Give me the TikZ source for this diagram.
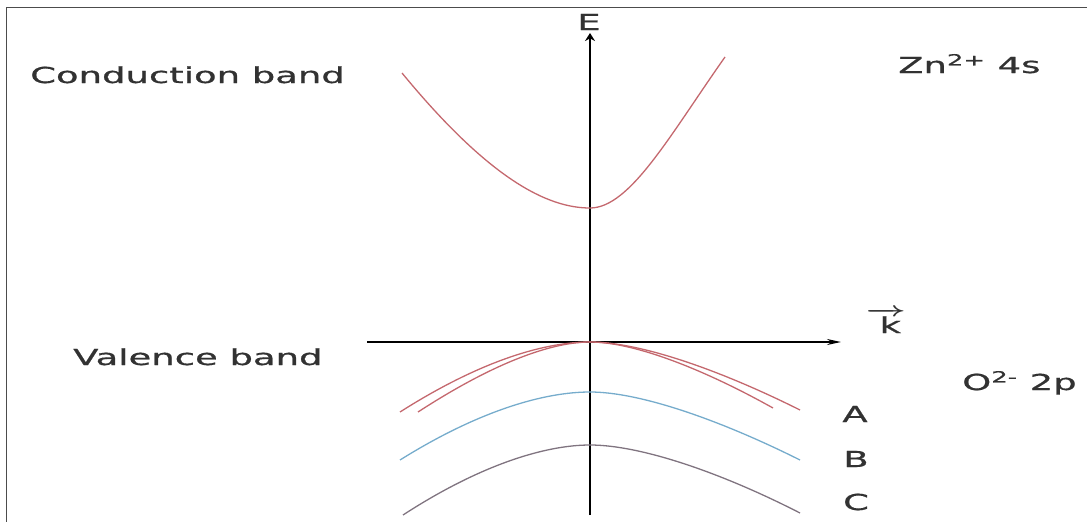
\documentclass[tikz,border=0pt]{standalone}
\usepackage{amsmath}
\usepackage{fontspec}
\setmainfont[FakeBold=0.6]{DejaVu Sans}
\usetikzlibrary{arrows.meta}
\definecolor{bandred}{RGB}{196,104,110}
\definecolor{bandblue}{RGB}{118,172,204}
\definecolor{bandgray}{RGB}{128,116,128}
\definecolor{txtgray}{RGB}{50,50,50}
\newcommand{\wide}[1]{\scalebox{1.68}[1]{#1}}

\begin{document}
\begin{tikzpicture}[x=1pt, y=-1pt, >=Stealth,
    lbl/.style={text=txtgray, font=\fontsize{22}{26}\selectfont, inner sep=0pt},
    band/.style={line width=1.3pt}]
    \useasboundingbox (0,0) rectangle (1087,522);

    % 边框
    \draw[line width=1.5pt, black!70] (6.5,522) -- (6.5,7.5) -- (1087,7.5);

    % 坐标轴 E 与 k
    \coordinate (Ebot) at (590,515);
    \coordinate (Etop) at (590,33);
    \coordinate (kleft) at (367,342);
    \coordinate (kright) at (841,342);
    \draw[line width=1.6pt, -{Stealth[length=8pt,width=10pt]}] (Ebot) -- (Etop);
    \draw[line width=1.6pt, -{Stealth[length=14pt,width=6pt]}] (kleft) -- (kright);
    \node[lbl, anchor=base] (E) at (589,30) {\wide{E}};
    \node[lbl, anchor=base] (k) at (886,333) {\wide{$\boldsymbol{\overrightarrow{\kern6pt\text{k}\kern1pt}}$}};

    % 导带
    \draw[band, bandred] (402,73) .. controls (490,180) and (548,208) .. (590,208)
        .. controls (630,208) and (670,135) .. (725,57);

    % 价带 A (两条)
    \draw[band, bandred] (400,412) .. controls (485,358) and (548,342) .. (590,342)
        .. controls (640,342) and (720,370) .. (800,410);
    \draw[band, bandred] (418,412) .. controls (495,362) and (552,342) .. (590,342)
        .. controls (635,342) and (705,370) .. (773,408);

    % 价带 B
    \draw[band, bandblue] (400,460) .. controls (480,410) and (545,392) .. (590,392)
        .. controls (640,392) and (720,420) .. (800,460);

    % 价带 C
    \draw[band, bandgray] (403,515) .. controls (480,465) and (545,445) .. (590,445)
        .. controls (640,445) and (720,472) .. (800,513);

    % 文字
    \node[lbl, anchor=base west] (cb) at (30,83) {\wide{Conduction band}};
    \node[lbl, anchor=base west] (vb) at (73,365) {\wide{Valence band}};
    \node[lbl, anchor=base west] (zn) at (898,73) {\wide{Zn\textsuperscript{2+} 4s}};
    \node[lbl, anchor=base west] (ox) at (962,390) {\wide{O\textsuperscript{2-} 2p}};
    \node[lbl, anchor=base] (A) at (855,422) {\wide{A}};
    \node[lbl, anchor=base] (B) at (856,467) {\wide{B}};
    \node[lbl, anchor=base] (C) at (856,510) {\wide{C}};
\end{tikzpicture}
\end{document}
